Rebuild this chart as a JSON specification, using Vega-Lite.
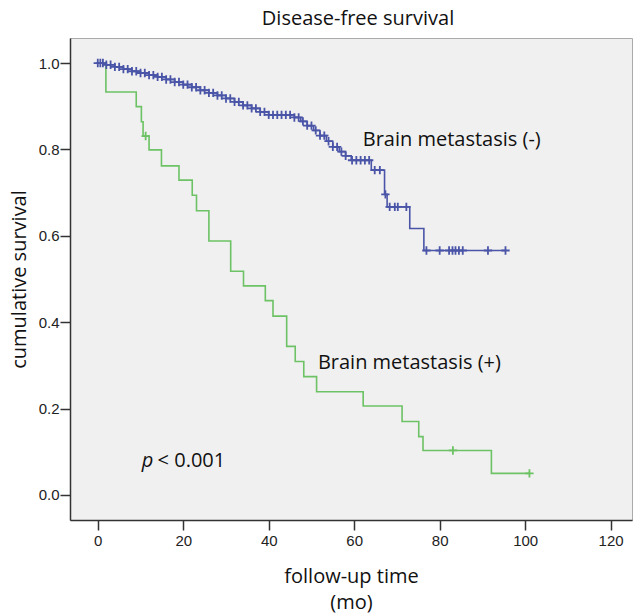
{
  "$schema": "https://vega.github.io/schema/vega-lite/v6.json",
  "width": 562,
  "height": 482,
  "autosize": {"type": "none"},
  "padding": {"left": 70, "top": 38, "right": 1, "bottom": 93},
  "background": "white",
  "title": {"text": "Disease-free survival", "font": "Open Sans", "fontSize": 20, "fontWeight": "normal", "color": "#111", "offset": 9, "dx": 7},
  "config": {
    "view": {"fill": "#f0f0f0", "stroke": "#aaa", "strokeWidth": 1},
    "axis": {"grid": false, "domainColor": "#333", "domainWidth": 1.5, "tickColor": "#333", "tickWidth": 1.5, "labelFont": "Liberation Sans", "labelFontSize": 15, "labelColor": "#222", "titleFont": "Open Sans", "titleFontWeight": "normal", "titleFontSize": 20, "titleColor": "#111"}
  },
  "datasets": {
    "curves": [
      {"group": "neg", "t": 0, "s": 1.0},
      {"group": "neg", "t": 2, "s": 0.996},
      {"group": "neg", "t": 4, "s": 0.991},
      {"group": "neg", "t": 6, "s": 0.986},
      {"group": "neg", "t": 8, "s": 0.981},
      {"group": "neg", "t": 10, "s": 0.977},
      {"group": "neg", "t": 12, "s": 0.972},
      {"group": "neg", "t": 14, "s": 0.968},
      {"group": "neg", "t": 16, "s": 0.962},
      {"group": "neg", "t": 18, "s": 0.956},
      {"group": "neg", "t": 20, "s": 0.95},
      {"group": "neg", "t": 22, "s": 0.944},
      {"group": "neg", "t": 24, "s": 0.937},
      {"group": "neg", "t": 26, "s": 0.931},
      {"group": "neg", "t": 28, "s": 0.925},
      {"group": "neg", "t": 30, "s": 0.918},
      {"group": "neg", "t": 32, "s": 0.91},
      {"group": "neg", "t": 34, "s": 0.902},
      {"group": "neg", "t": 36, "s": 0.895},
      {"group": "neg", "t": 38, "s": 0.887},
      {"group": "neg", "t": 40, "s": 0.88},
      {"group": "neg", "t": 46, "s": 0.874},
      {"group": "neg", "t": 47.5, "s": 0.865},
      {"group": "neg", "t": 49, "s": 0.855},
      {"group": "neg", "t": 50.5, "s": 0.844},
      {"group": "neg", "t": 52, "s": 0.832},
      {"group": "neg", "t": 53.5, "s": 0.819},
      {"group": "neg", "t": 55, "s": 0.806},
      {"group": "neg", "t": 56.5, "s": 0.795},
      {"group": "neg", "t": 58, "s": 0.785},
      {"group": "neg", "t": 59.3, "s": 0.775},
      {"group": "neg", "t": 64, "s": 0.752},
      {"group": "neg", "t": 67.1, "s": 0.696},
      {"group": "neg", "t": 67.7, "s": 0.667},
      {"group": "neg", "t": 73, "s": 0.617},
      {"group": "neg", "t": 76.3, "s": 0.566},
      {"group": "neg", "t": 95.4, "s": 0.566},
      {"group": "pos", "t": 0, "s": 1.0},
      {"group": "pos", "t": 1.9, "s": 0.933},
      {"group": "pos", "t": 9.0, "s": 0.899},
      {"group": "pos", "t": 10.2, "s": 0.864},
      {"group": "pos", "t": 10.6, "s": 0.831},
      {"group": "pos", "t": 12.0, "s": 0.799},
      {"group": "pos", "t": 14.9, "s": 0.762},
      {"group": "pos", "t": 19.0, "s": 0.729},
      {"group": "pos", "t": 22.1, "s": 0.694},
      {"group": "pos", "t": 23.1, "s": 0.658},
      {"group": "pos", "t": 26.0, "s": 0.588},
      {"group": "pos", "t": 31.1, "s": 0.518},
      {"group": "pos", "t": 34.1, "s": 0.484},
      {"group": "pos", "t": 39.2, "s": 0.45},
      {"group": "pos", "t": 41.0, "s": 0.414},
      {"group": "pos", "t": 44.2, "s": 0.344},
      {"group": "pos", "t": 46.2, "s": 0.309},
      {"group": "pos", "t": 48.2, "s": 0.274},
      {"group": "pos", "t": 51.2, "s": 0.239},
      {"group": "pos", "t": 62.1, "s": 0.206},
      {"group": "pos", "t": 71.2, "s": 0.17},
      {"group": "pos", "t": 75.1, "s": 0.135},
      {"group": "pos", "t": 76.1, "s": 0.103},
      {"group": "pos", "t": 92.1, "s": 0.05},
      {"group": "pos", "t": 101, "s": 0.05}
    ],
    "censors": [
      {"group": "neg", "t": 0, "s": 1.0},
      {"group": "neg", "t": 0.6, "s": 1.0},
      {"group": "neg", "t": 1.2, "s": 1.0},
      {"group": "neg", "t": 2, "s": 0.996},
      {"group": "neg", "t": 3, "s": 0.996},
      {"group": "neg", "t": 4, "s": 0.991},
      {"group": "neg", "t": 5, "s": 0.991},
      {"group": "neg", "t": 6, "s": 0.986},
      {"group": "neg", "t": 7, "s": 0.986},
      {"group": "neg", "t": 8, "s": 0.981},
      {"group": "neg", "t": 9, "s": 0.981},
      {"group": "neg", "t": 10, "s": 0.977},
      {"group": "neg", "t": 11, "s": 0.977},
      {"group": "neg", "t": 12, "s": 0.972},
      {"group": "neg", "t": 13, "s": 0.972},
      {"group": "neg", "t": 14, "s": 0.968},
      {"group": "neg", "t": 15, "s": 0.968},
      {"group": "neg", "t": 16, "s": 0.962},
      {"group": "neg", "t": 17, "s": 0.962},
      {"group": "neg", "t": 18, "s": 0.956},
      {"group": "neg", "t": 19, "s": 0.956},
      {"group": "neg", "t": 20, "s": 0.95},
      {"group": "neg", "t": 21, "s": 0.95},
      {"group": "neg", "t": 22, "s": 0.944},
      {"group": "neg", "t": 23, "s": 0.944},
      {"group": "neg", "t": 24, "s": 0.937},
      {"group": "neg", "t": 25, "s": 0.937},
      {"group": "neg", "t": 26, "s": 0.931},
      {"group": "neg", "t": 27, "s": 0.931},
      {"group": "neg", "t": 28, "s": 0.925},
      {"group": "neg", "t": 29, "s": 0.925},
      {"group": "neg", "t": 30, "s": 0.918},
      {"group": "neg", "t": 31, "s": 0.918},
      {"group": "neg", "t": 32, "s": 0.91},
      {"group": "neg", "t": 33, "s": 0.91},
      {"group": "neg", "t": 34, "s": 0.902},
      {"group": "neg", "t": 35, "s": 0.902},
      {"group": "neg", "t": 36, "s": 0.895},
      {"group": "neg", "t": 37, "s": 0.895},
      {"group": "neg", "t": 38, "s": 0.887},
      {"group": "neg", "t": 39, "s": 0.887},
      {"group": "neg", "t": 40, "s": 0.88},
      {"group": "neg", "t": 41, "s": 0.88},
      {"group": "neg", "t": 42, "s": 0.88},
      {"group": "neg", "t": 43, "s": 0.88},
      {"group": "neg", "t": 44, "s": 0.88},
      {"group": "neg", "t": 45, "s": 0.88},
      {"group": "neg", "t": 46, "s": 0.874},
      {"group": "neg", "t": 47, "s": 0.874},
      {"group": "neg", "t": 48, "s": 0.865},
      {"group": "neg", "t": 49, "s": 0.855},
      {"group": "neg", "t": 50, "s": 0.855},
      {"group": "neg", "t": 51, "s": 0.844},
      {"group": "neg", "t": 52, "s": 0.832},
      {"group": "neg", "t": 53, "s": 0.832},
      {"group": "neg", "t": 54, "s": 0.819},
      {"group": "neg", "t": 55, "s": 0.806},
      {"group": "neg", "t": 56, "s": 0.806},
      {"group": "neg", "t": 57, "s": 0.795},
      {"group": "neg", "t": 58, "s": 0.785},
      {"group": "neg", "t": 59.5, "s": 0.775},
      {"group": "neg", "t": 60.5, "s": 0.775},
      {"group": "neg", "t": 61.5, "s": 0.775},
      {"group": "neg", "t": 62.5, "s": 0.775},
      {"group": "neg", "t": 63.5, "s": 0.775},
      {"group": "neg", "t": 64.8, "s": 0.752},
      {"group": "neg", "t": 66, "s": 0.752},
      {"group": "neg", "t": 67.3, "s": 0.696},
      {"group": "neg", "t": 68.3, "s": 0.667},
      {"group": "neg", "t": 69.5, "s": 0.667},
      {"group": "neg", "t": 70.2, "s": 0.667},
      {"group": "neg", "t": 72.2, "s": 0.667},
      {"group": "neg", "t": 76.9, "s": 0.566},
      {"group": "neg", "t": 80.0, "s": 0.566},
      {"group": "neg", "t": 82.2, "s": 0.566},
      {"group": "neg", "t": 83.0, "s": 0.566},
      {"group": "neg", "t": 83.7, "s": 0.566},
      {"group": "neg", "t": 84.5, "s": 0.566},
      {"group": "neg", "t": 85.4, "s": 0.566},
      {"group": "neg", "t": 91.3, "s": 0.566},
      {"group": "neg", "t": 95.4, "s": 0.566},
      {"group": "pos", "t": 11.2, "s": 0.831},
      {"group": "pos", "t": 83.1, "s": 0.103},
      {"group": "pos", "t": 101, "s": 0.05}
    ],
    "labels": [
      {"t": 62, "s": 0.822, "text": "Brain metastasis (-)"},
      {"t": 51.5, "s": 0.306, "text": "Brain metastasis (+)"}
    ]
  },
  "layer": [
    {
      "data": {"name": "curves"},
      "mark": {"type": "line", "interpolate": "step-after", "strokeWidth": 1.6},
      "encoding": {
        "x": {"field": "t", "type": "quantitative", "scale": {"domain": [-6.5, 125], "nice": false, "zero": false}, "axis": {"values": [0, 20, 40, 60, 80, 100, 120], "title": ["follow-up time", "(mo)"], "titlePadding": 18, "tickSize": 10, "labelPadding": 3, "titleLineHeight": 26}},
        "y": {"field": "s", "type": "quantitative", "scale": {"domain": [-0.058, 1.058], "nice": false, "zero": false}, "axis": {"values": [0, 0.2, 0.4, 0.6, 0.8, 1.0], "format": ".1f", "title": "cumulative survival", "titlePadding": 9, "tickSize": 10, "labelPadding": 1}},
        "color": {"field": "group", "type": "nominal", "scale": {"domain": ["neg", "pos"], "range": ["#4a55a8", "#6cc264"]}, "legend": null}
      }
    },
    {
      "data": {"name": "censors"},
      "mark": {"type": "point", "shape": "M-1,0H1M0,-1V1", "filled": false, "strokeWidth": 1.8, "opacity": 1},
      "encoding": {
        "x": {"field": "t", "type": "quantitative"},
        "y": {"field": "s", "type": "quantitative"},
        "size": {"value": 70},
        "color": {"field": "group", "type": "nominal", "scale": {"domain": ["neg", "pos"], "range": ["#4a55a8", "#6cc264"]}, "legend": null}
      }
    },
    {
      "data": {"name": "labels"},
      "mark": {"type": "text", "align": "left", "baseline": "middle", "font": "Open Sans", "fontSize": 20, "color": "#111"},
      "encoding": {
        "x": {"field": "t", "type": "quantitative"},
        "y": {"field": "s", "type": "quantitative"},
        "text": {"field": "text"}
      }
    },
    {
      "data": {"values": [{"t": 10.3, "s": 0.079, "a": "p"}]},
      "mark": {"type": "text", "align": "left", "baseline": "middle", "font": "Open Sans", "fontSize": 20, "fontStyle": "italic", "color": "#111"},
      "encoding": {
        "x": {"field": "t", "type": "quantitative"},
        "y": {"field": "s", "type": "quantitative"},
        "text": {"field": "a"}
      }
    },
    {
      "data": {"values": [{"t": 14.0, "s": 0.079, "b": "< 0.001"}]},
      "mark": {"type": "text", "align": "left", "baseline": "middle", "font": "Open Sans", "fontSize": 20, "color": "#111"},
      "encoding": {
        "x": {"field": "t", "type": "quantitative"},
        "y": {"field": "s", "type": "quantitative"},
        "text": {"field": "b"}
      }
    }
  ]
}
